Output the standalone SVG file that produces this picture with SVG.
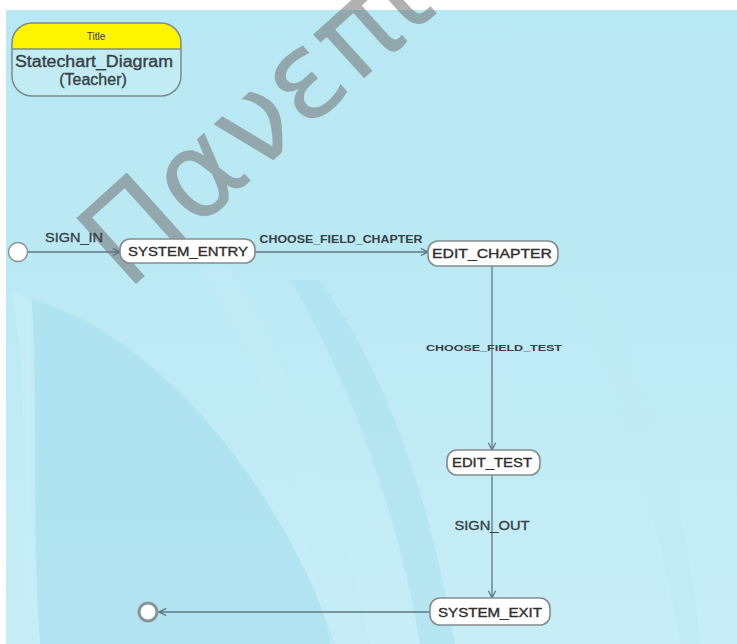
<svg xmlns="http://www.w3.org/2000/svg" width="737" height="644" viewBox="0 0 737 644">
  <defs>
    <linearGradient id="bgGrad" x1="0" y1="0" x2="0" y2="1">
      <stop offset="0" stop-color="#b8e8f3"/>
      <stop offset="0.4" stop-color="#bae9f4"/>
      <stop offset="1" stop-color="#c8eef7"/>
    </linearGradient>
    <clipPath id="titleClip">
      <rect x="12" y="23" width="169" height="73" rx="20" ry="20"/>
    </clipPath>
    <marker id="arrow" viewBox="0 0 10 10" refX="9" refY="5" markerWidth="9" markerHeight="9" markerUnits="userSpaceOnUse" orient="auto">
      <path d="M1,1 L9,5 L1,9" fill="none" stroke="#56707a" stroke-width="1.3"/>
    </marker>
    <style>
      .state { fill: #ffffff; stroke: #858c8e; stroke-width: 1.6; }
      .stateText { font-family: "Liberation Sans", Arial, sans-serif; font-size: 13px; fill: #2e2e2e; stroke: #2e2e2e; stroke-width: 0.35; text-anchor: middle; }
      .label { font-family: "Liberation Sans", Arial, sans-serif; fill: #374044; }
      .heavy { stroke: #374044; stroke-width: 0.35; }
      .edge { fill: none; stroke: #5e7780; stroke-width: 1.3; }
      .pseudo { fill: #ffffff; stroke: #8a9497; }
      .band { stroke: none; }
    </style>
  </defs>

  <!-- canvas -->
  <rect x="0" y="0" width="737" height="644" fill="#ffffff"/>
  <rect x="6" y="10" width="731" height="634" fill="url(#bgGrad)"/>

  <!-- background swirls -->
  <g id="background">
    <path class="band" fill="#ade2ef" opacity="0.85" d="M32,300 C150,330 280,480 335,644 L40,644 C30,520 26,400 32,300 Z"/>
    <path class="band" fill="#c6edf6" opacity="0.8" d="M12,290 C30,400 22,520 26,644 L40,644 C32,520 38,400 32,300 Z"/>
    <path class="band" fill="#c4ecf6" opacity="0.5" d="M200,270 C260,350 300,500 330,644 L370,644 C330,480 290,350 230,270 Z"/>
    <path class="band" fill="#aee3ef" opacity="0.7" d="M290,280 C350,380 400,520 420,644 L455,644 C430,500 390,380 320,280 Z"/>
    <path class="band" fill="#bfeaf4" opacity="0.7" d="M560,280 C620,380 660,520 680,644 L700,644 C690,520 650,380 590,280 Z"/>
  </g>

  <!-- watermark -->
  <text id="watermark" x="127" y="292" transform="rotate(-42 127 292)" font-family="DejaVu Sans, sans-serif" font-size="122" fill="#737373" opacity="0.55">Πανεπι</text>

  <!-- title block -->
  <g id="title">
    <g clip-path="url(#titleClip)">
      <rect x="12" y="23" width="169" height="73" fill="#ffffff" opacity="0.15"/>
      <rect x="12" y="23" width="169" height="26" fill="#fdf400"/>
    </g>
    <line x1="12" y1="49" x2="181" y2="49" stroke="#7b8b8e" stroke-width="1.3"/>
    <rect x="12" y="23" width="169" height="73" rx="20" ry="20" fill="none" stroke="#7b8b8e" stroke-width="1.5"/>
    <text x="96" y="40" class="label" font-size="10" text-anchor="middle">Title</text>
    <text x="94" y="67" class="label heavy" font-size="16" text-anchor="middle" textLength="158" lengthAdjust="spacingAndGlyphs">Statechart_Diagram</text>
    <text x="93" y="85" class="label heavy" font-size="16" text-anchor="middle">(Teacher)</text>
  </g>

  <!-- transitions -->
  <g id="connectors">
    <line class="edge" x1="28" y1="252" x2="120" y2="252" marker-end="url(#arrow)"/>
    <line class="edge" x1="255" y1="252" x2="428" y2="252" marker-end="url(#arrow)"/>
    <line class="edge" x1="492" y1="266" x2="492" y2="450" marker-end="url(#arrow)"/>
    <line class="edge" x1="492" y1="475" x2="492" y2="598" marker-end="url(#arrow)"/>
    <line class="edge" x1="430" y1="612" x2="159" y2="612" marker-end="url(#arrow)"/>
    <text x="74" y="242" class="label heavy" font-size="13" text-anchor="middle" textLength="58" lengthAdjust="spacingAndGlyphs">SIGN_IN</text>
    <text x="341" y="243" class="label" font-size="10" font-weight="bold" text-anchor="middle" textLength="163" lengthAdjust="spacingAndGlyphs">CHOOSE_FIELD_CHAPTER</text>
    <text x="494" y="351" class="label" font-size="9.5" font-weight="bold" text-anchor="middle" textLength="136" lengthAdjust="spacingAndGlyphs">CHOOSE_FIELD_TEST</text>
    <text x="492" y="530" class="label heavy" font-size="13" text-anchor="middle" textLength="75" lengthAdjust="spacingAndGlyphs">SIGN_OUT</text>
  </g>

  <!-- pseudo states -->
  <g id="initial">
    <circle class="pseudo" cx="18" cy="252" r="9.5" stroke-width="1.5"/>
  </g>
  <g id="final">
    <circle class="pseudo" cx="148" cy="612" r="9" stroke-width="3"/>
  </g>

  <!-- states -->
  <g id="system_entry">
    <rect class="state" x="120" y="239" width="135" height="24" rx="10" ry="10"/>
    <text class="stateText" x="188" y="256" textLength="120" lengthAdjust="spacingAndGlyphs">SYSTEM_ENTRY</text>
  </g>
  <g id="edit_chapter">
    <rect class="state" x="428" y="241" width="130" height="25" rx="10" ry="10"/>
    <text class="stateText" x="492" y="258" textLength="120" lengthAdjust="spacingAndGlyphs">EDIT_CHAPTER</text>
  </g>
  <g id="edit_test">
    <rect class="state" x="447" y="450" width="93" height="25" rx="10" ry="10"/>
    <text class="stateText" x="492" y="467" textLength="80" lengthAdjust="spacingAndGlyphs">EDIT_TEST</text>
  </g>
  <g id="system_exit">
    <rect class="state" x="430" y="598" width="120" height="27" rx="10" ry="10"/>
    <text class="stateText" x="490" y="617" textLength="104" lengthAdjust="spacingAndGlyphs">SYSTEM_EXIT</text>
  </g>
</svg>
